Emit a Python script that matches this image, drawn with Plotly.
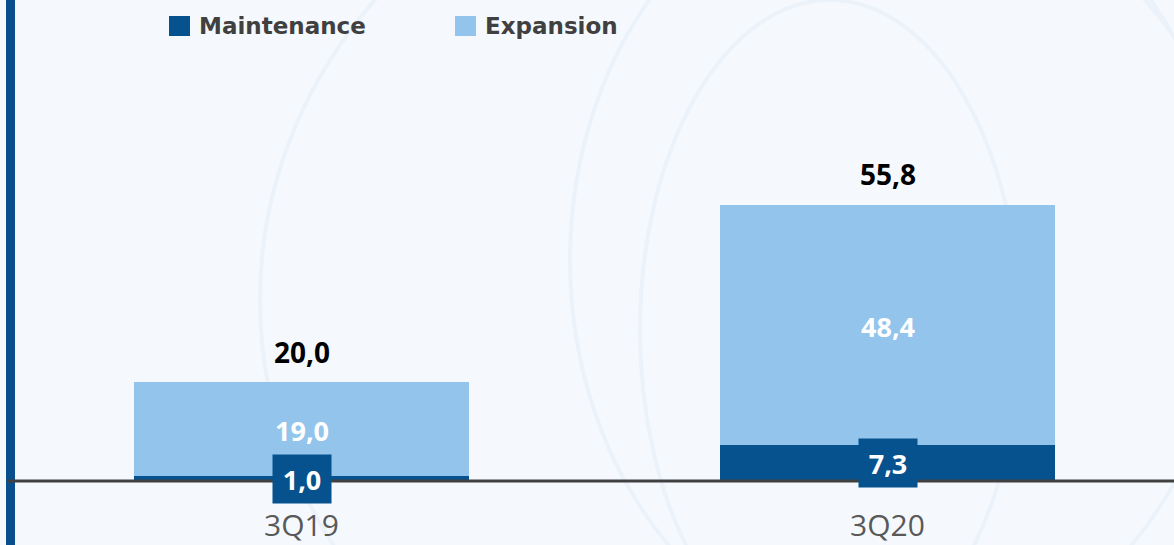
import plotly.graph_objects as go

categories = ["3Q19", "3Q20"]
maintenance = [1.0, 7.3]
expansion = [19.0, 48.4]
totals = [20.0, 55.8]

DARK = "#05528e"
LIGHT = "#93c5ec"
BG = "#f5f9fd"

W, H, B = 1174, 545, 64
PH = H - B  # plot height in px


def fmt(v):
    return f"{v:.1f}".replace(".", ",")


def px_x(p):
    return p / W


def px_y(p):  # p = pixel from top
    return 1 - p / PH


xpos = list(range(len(categories)))

fig = go.Figure()
fig.add_trace(go.Bar(x=xpos, y=maintenance, name="Maintenance", marker_color=DARK,
                     width=0.572, marker_line_width=0, showlegend=False, hoverinfo="skip"))
fig.add_trace(go.Bar(x=xpos, y=expansion, name="Expansion", marker_color=LIGHT,
                     width=0.572, marker_line_width=0, showlegend=False, hoverinfo="skip"))

annotations = []
for i in xpos:
    annotations.append(dict(x=i, y=totals[i], xref="x", yref="y", text=f"<b>{fmt(totals[i])}</b>",
                            showarrow=False, yshift=30,
                            font=dict(family="Open Sans", size=28, color="#000000")))
    annotations.append(dict(x=i, y=maintenance[i] + expansion[i] / 2, xref="x", yref="y",
                            text=f"<b>{fmt(expansion[i])}</b>", showarrow=False, yshift=-2,
                            font=dict(family="Open Sans", size=27, color="#ffffff")))
    annotations.append(dict(x=i, y=maintenance[i] / 2, xref="x", yref="y",
                            text=f"<b>{fmt(maintenance[i])}</b>", showarrow=False,
                            bgcolor=DARK, width=58, height=48, borderpad=0,
                            font=dict(family="Open Sans", size=27, color="#ffffff")))

shapes = []
# faint watermark outlines
wm = "#ecf2f9"
for (cx, cy, rx, ry) in [(760, 300, 500, 470), (830, 330, 190, 330), (900, 260, 330, 400)]:
    shapes.append(dict(type="circle", xref="paper", yref="paper",
                       x0=px_x(cx - rx), x1=px_x(cx + rx), y0=px_y(cy + ry), y1=px_y(cy - ry),
                       line=dict(color=wm, width=4), layer="below"))

legend_items = [("Maintenance", DARK, 169), ("Expansion", LIGHT, 455)]
for name, col, p in legend_items:
    shapes.append(dict(type="rect", xref="paper", yref="paper",
                       x0=px_x(p), x1=px_x(p + 21), y0=px_y(36), y1=px_y(16),
                       fillcolor=col, line_width=0, layer="above"))
    annotations.append(dict(x=px_x(p + 28), y=px_y(26), xref="paper", yref="paper",
                            xanchor="left", yanchor="middle", text=f"<b>{name}</b>",
                            showarrow=False,
                            font=dict(family="DejaVu Sans", size=23, color="#404040")))

# left accent bar
shapes.append(dict(type="rect", xref="paper", yref="paper", x0=px_x(6), x1=px_x(15),
                   y0=px_y(H), y1=1, fillcolor="#0a4f8d", line_width=0, layer="above"))
# baseline
shapes.append(dict(type="rect", xref="paper", yref="paper", x0=px_x(8), x1=1,
                   y0=px_y(482.5), y1=px_y(479.5),
                   fillcolor="#404040", line_width=0, layer="above"))

fig.update_layout(
    width=W, height=H,
    margin=dict(l=0, r=0, t=0, b=B, autoexpand=False),
    paper_bgcolor=BG, plot_bgcolor="rgba(0,0,0,0)",
    barmode="stack",
    showlegend=False,
    xaxis=dict(range=[-0.5145, 1.4889], tickvals=xpos, ticktext=categories,
               showgrid=False, zeroline=False, showline=False, ticks="",
               automargin=False, ticklabelstandoff=24,
               tickfont=dict(family="Open Sans", size=30, color="#595959")),
    yaxis=dict(range=[0, 97.0], visible=False, showgrid=False, zeroline=False,
               automargin=False),
    annotations=annotations,
    shapes=shapes,
)

fig.write_html("out.html")
